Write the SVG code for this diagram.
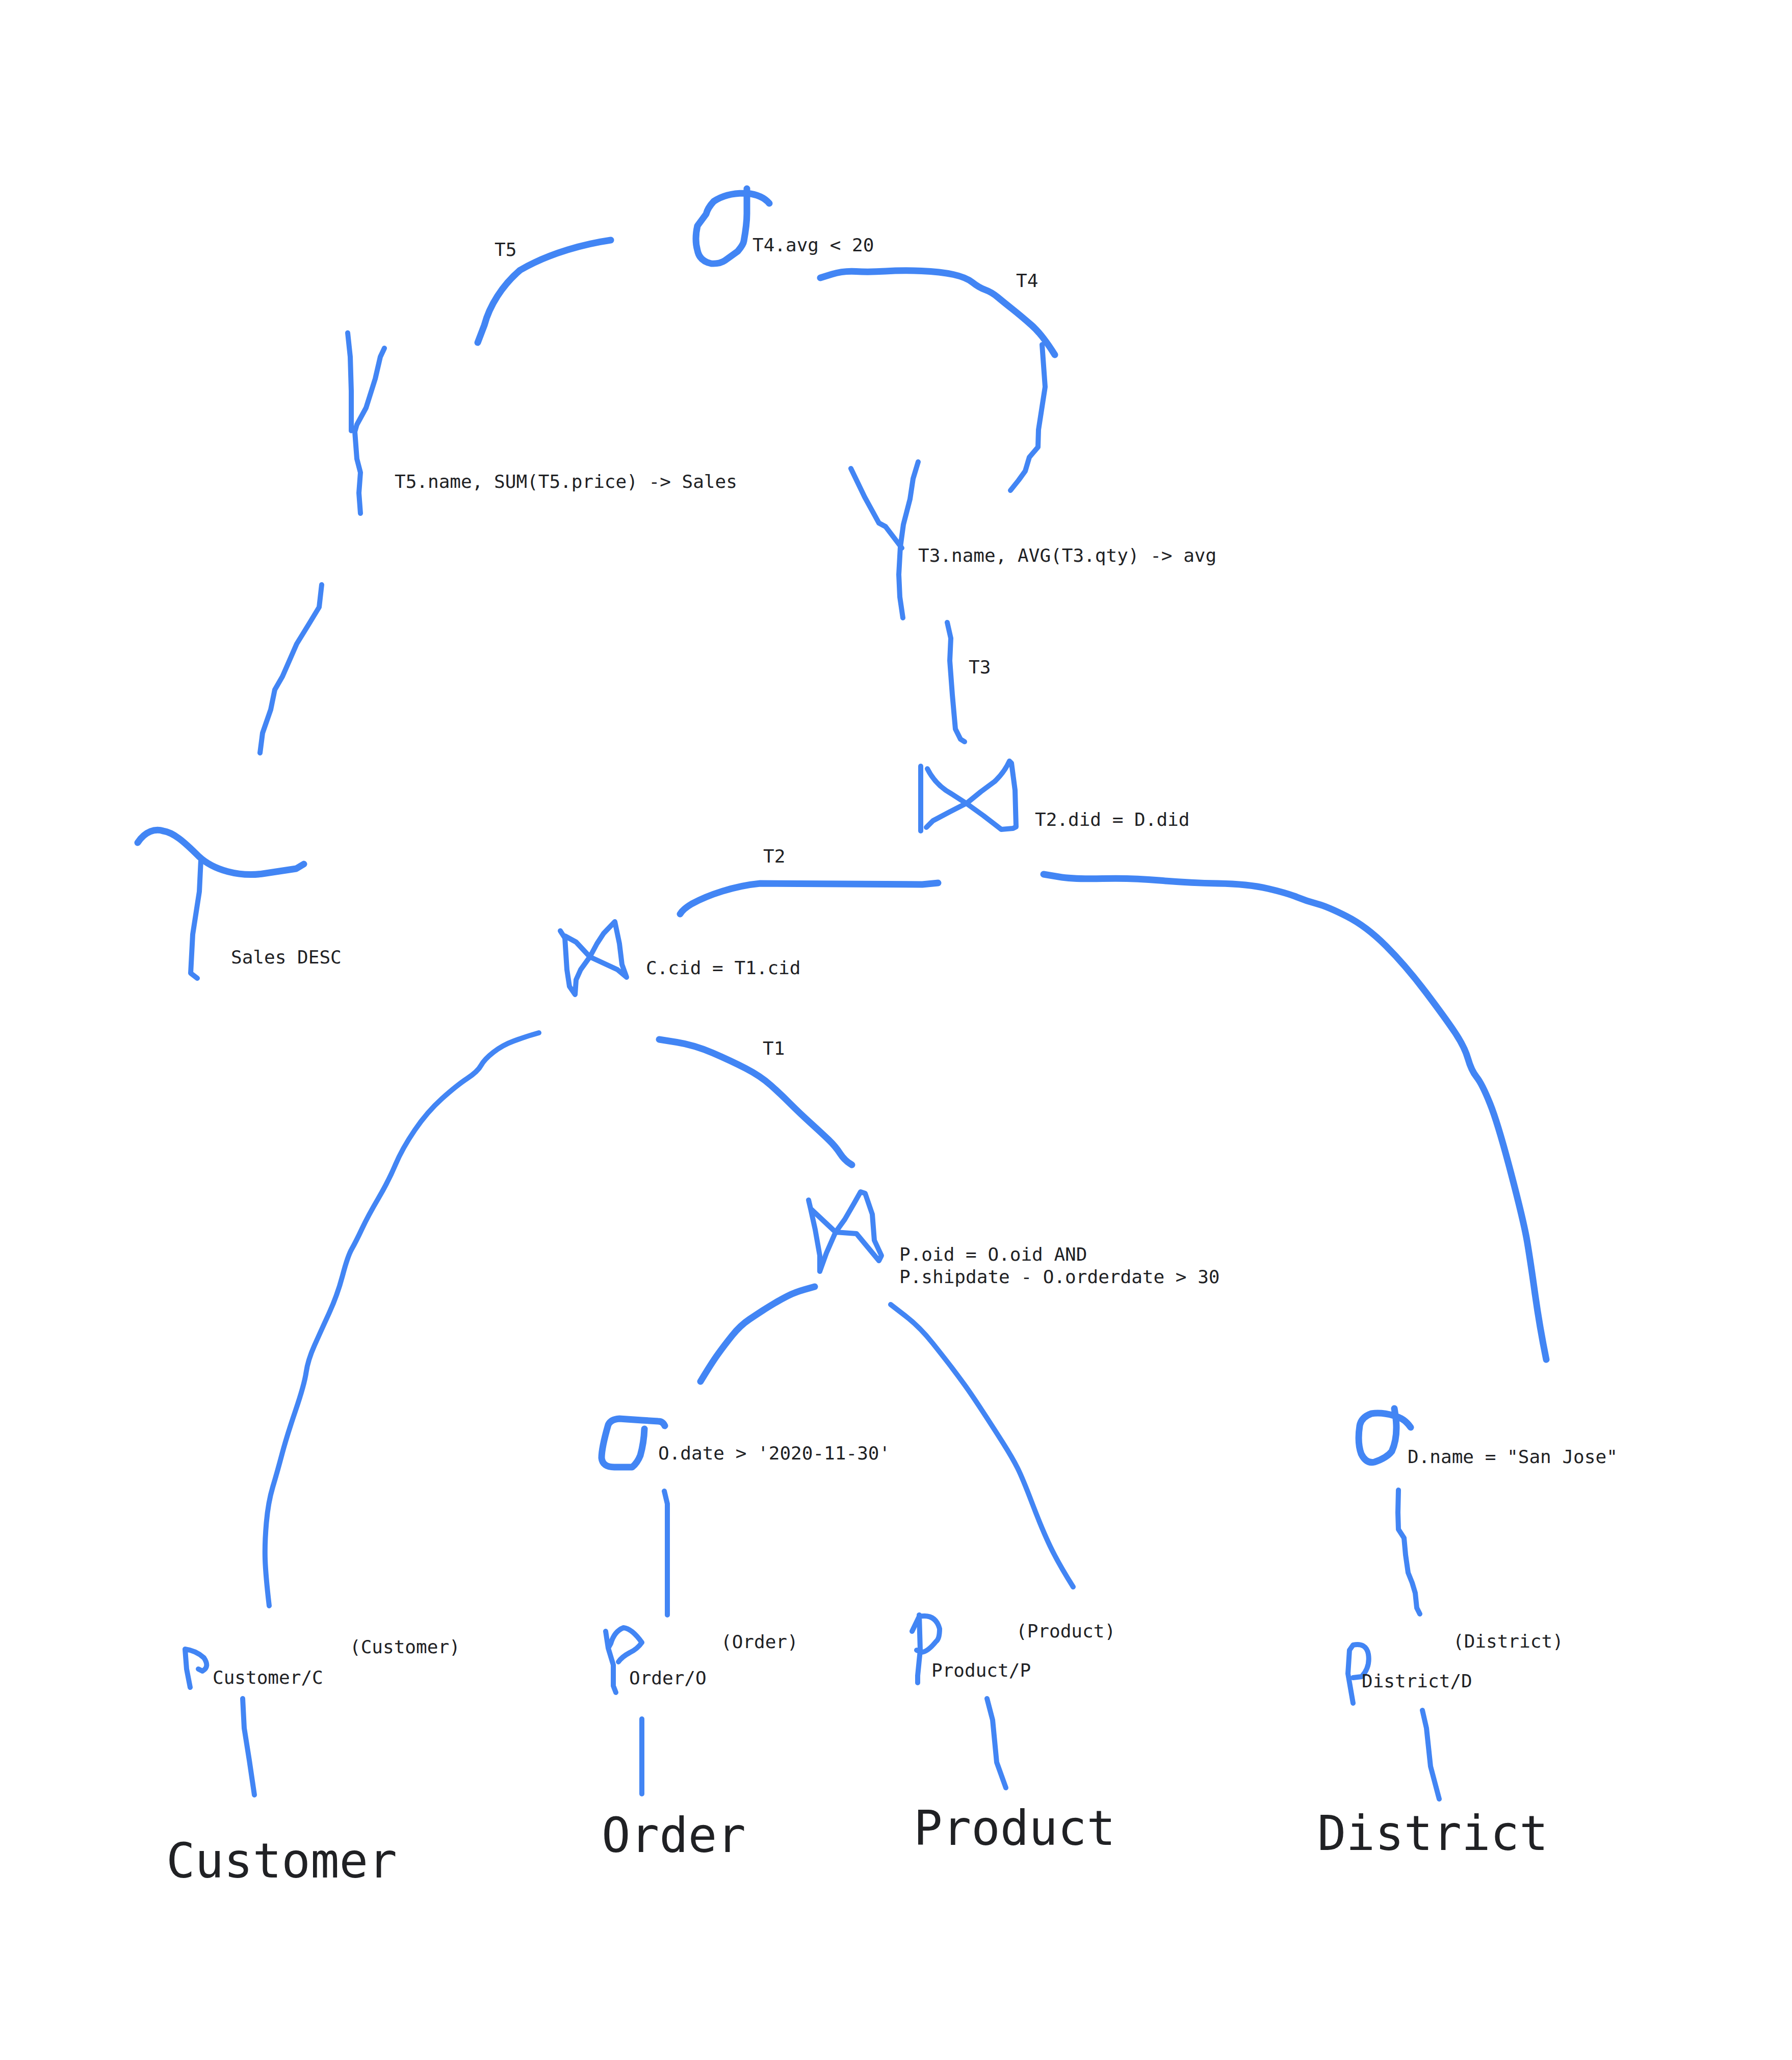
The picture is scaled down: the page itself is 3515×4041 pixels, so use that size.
<svg xmlns="http://www.w3.org/2000/svg" width="3515" height="4041" viewBox="0 0 3515 4041">
<style>
.s{fill:none;stroke:#4285F4;stroke-width:10;stroke-linecap:round;stroke-linejoin:round}
.w{stroke-width:13}
.t{font-family:"DejaVu Sans Mono","Liberation Mono",monospace;font-size:36px;fill:#202124}
.big{font-size:94px}
</style>
<rect width="3515" height="4041" fill="#ffffff"/>
<g id="connectors">
  <path class="s w" d="M1198,471 C1150,478 1080,495 1020,530 C985,560 960,600 950,638 L937,672"/>
  <path class="s w" d="M1609,545 L1631.5,538 Q1654,531 1679,532.5 Q1704,534 1737,532 Q1770,530 1807.5,531.5 Q1845,533 1870,538.5 Q1895,544 1907.5,554 Q1920,564 1932.5,568.5 Q1945,573 1957,583 Q1969,593 1986,606.5 Q2003,620 2023.5,638 Q2044,656 2069,696"/>
  <path class="s" d="M2044,676 L2050,759 L2037,843 L2036,877 L2019,897 L2011,924 L1998,942 L1982,962"/>
  <path class="s" d="M631,1147 L626,1191 L606,1224 L582,1263 L554,1327 L539,1353 L531,1392 L515,1438 L510,1477"/>
  <path class="s" d="M1858,1221 L1865,1252 L1863,1296 L1868,1363 L1874,1430 L1884,1450 L1892,1455"/>
  <path class="s w" d="M1840,1732 L1809,1735 L1491,1733 C1440,1738 1390,1755 1357,1773 Q1340,1783 1334,1793"/>
  <path class="s w" d="M2047,1715 L2077,1720 Q2107,1725 2163,1723.5 Q2219,1722 2274.5,1727 Q2330,1732 2389,1733 Q2448,1734 2486.5,1743 Q2525,1752 2544.5,1760 Q2564,1768 2583.5,1773 Q2603,1778 2641.5,1797.5 Q2680,1817 2718.5,1855.5 Q2757,1894 2796,1945.5 Q2835,1997 2854,2025.5 Q2873,2054 2879.5,2077 Q2886,2100 2896.5,2113 Q2907,2126 2922.5,2164.5 Q2938,2203 2963.5,2300 Q2989,2397 2995.5,2435.5 Q3002,2474 3011,2538.5 Q3020,2603 3033,2667"/>
  <path class="s" d="M1057,2026 L1043.5,2030 Q1030,2034 1008,2042 Q986,2050 968,2064 Q950,2078 943.5,2090 Q937,2102 916.5,2115.5 Q896,2129 867,2155 Q838,2181 813.5,2217 Q789,2253 775.5,2285 Q762,2317 742,2351 Q722,2385 710,2410.5 Q698,2436 690,2450 Q682,2464 672,2502 Q662,2540 645.5,2576 Q629,2612 616.5,2640 Q604,2668 600.5,2692 Q597,2716 579.5,2767.5 Q562,2819 553,2853 Q544,2887 535,2917 Q526,2947 522.5,2987 Q519,3027 520,3058.5 Q521,3090 528,3150"/>
  <path class="s w" d="M1293,2039 L1327.5,2044.5 Q1362,2050 1398,2065.5 Q1434,2081 1463,2096 Q1492,2111 1512,2129 Q1532,2147 1550,2165 Q1568,2183 1590,2203 Q1612,2223 1625.5,2236 Q1639,2249 1648,2263 Q1657,2277 1671,2285"/>
  <path class="s w" d="M1598,2524 L1578.5,2529.5 Q1559,2535 1544.5,2542.5 Q1530,2550 1517.5,2557.5 Q1505,2565 1496.5,2570.5 Q1488,2576 1470,2588 Q1452,2600 1436,2620 Q1420,2640 1407.5,2657.5 Q1395,2675 1374,2710"/>
  <path class="s" d="M1747,2559 L1775.5,2581 Q1804,2603 1829.5,2635 Q1855,2667 1867.5,2683.5 Q1880,2700 1892,2716.5 Q1904,2733 1926,2766.5 Q1948,2800 1967,2830 Q1986,2860 1996,2880 Q2006,2900 2025,2950 Q2044,3000 2060,3033.5 Q2076,3067 2105,3113"/>
  <path class="s" d="M1303,2925 L1309,2950 L1309,3168"/>
  <path class="s" d="M2743,2923 L2742,2967 L2743,3000 L2754,3017 L2757,3050 L2762,3085 L2770,3105 L2776,3125 L2779,3154 L2785,3166"/>
  <path class="s" d="M476,3332 L479,3390 L489,3453 L499,3521"/>
  <path class="s" d="M1259,3372 L1259,3519"/>
  <path class="s" d="M1936,3332 L1947,3374 L1955,3457 L1973,3507"/>
  <path class="s" d="M2790,3355 L2798,3390 L2806,3465 L2823,3529"/>
  <text class="t" x="970" y="502">T5</text>
  <text class="t" x="1993" y="563">T4</text>
  <text class="t" x="1900" y="1321">T3</text>
  <text class="t" x="1497" y="1692">T2</text>
  <text class="t" x="1496" y="2069">T1</text>
</g>
<g id="select-top">
  <path class="s w" d="M1509,399 Q1495,382 1464,379 Q1425,378 1400,395 Q1388,408 1385,420 L1368,443 Q1362,470 1368,491 Q1372,512 1395,517 Q1412,518 1422,511 L1447,493 Q1458,480 1459,473 Q1465,440 1465,419 L1465,370"/>
  <text class="t" x="1476" y="493">T4.avg &lt; 20</text>
</g>
<g id="group-t5">
  <path class="s" d="M682,653 L687,700 L689,767 L689,845"/>
  <path class="s" d="M754,683 L746,700 L736,743 L718,800 L700,833 L696,847 L700,900 L707,927 L704,967 L707,1007"/>
  <text class="t" x="774" y="957">T5.name, SUM(T5.price) -&gt; Sales</text>
</g>
<g id="group-t3">
  <path class="s" d="M1669,919 L1696,975 L1724,1026 L1737,1033 L1769,1075"/>
  <path class="s" d="M1801,906 L1791,939 L1785,979 L1772,1029 L1766,1073 L1763,1127 L1765,1171 L1771,1212"/>
  <text class="t" x="1801" y="1102">T3.name, AVG(T3.qty) -&gt; avg</text>
</g>
<g id="sort">
  <path class="s w" d="M270,1653 C285,1630 305,1625 320,1630 C340,1633 360,1650 390,1680 C420,1708 470,1720 515,1714 L581,1704 L596,1695"/>
  <path class="s" d="M394,1687 L391,1749 L378,1833 L374,1909 L387,1919"/>
  <text class="t" x="453" y="1890">Sales DESC</text>
</g>
<g id="join-top">
  <path class="s" d="M1806,1503 L1806,1630"/>
  <path class="s" d="M1819,1508 Q1835,1540 1866,1557 L1897,1577 L1929,1600 L1955,1620 L1964,1627 L1987,1625 L1993,1622 L1991,1550 L1984,1497 L1980,1493 Q1970,1515 1951,1533 L1924,1553 L1897,1575 L1862,1593 L1830,1610 L1817,1623"/>
  <text class="t" x="2030" y="1620">T2.did = D.did</text>
</g>
<g id="join-c">
  <path class="s" d="M1099,1826 L1108,1840 L1112,1902 L1117,1935 L1128,1951 L1130,1922 L1139,1902 L1157,1877 L1171,1851 L1184,1831 L1206,1808 L1215,1851 L1220,1892 L1229,1917 L1211,1902 L1157,1877 L1130,1848 L1108,1836"/>
  <text class="t" x="1267" y="1911">C.cid = T1.cid</text>
</g>
<g id="join-po">
  <path class="s" d="M1586,2354 L1590,2371 L1599,2412 L1608,2463 L1608,2494 L1621,2458 L1639,2417 L1657,2392 L1675,2361 L1688,2338 L1697,2341 L1711,2382 L1715,2433 L1729,2463 L1724,2473 L1680,2420 L1639,2417 L1590,2371"/>
  <text class="t" x="1764" y="2473">P.oid = O.oid AND</text>
  <text class="t" x="1764" y="2517">P.shipdate - O.orderdate &gt; 30</text>
</g>
<g id="select-o">
  <path class="s w" d="M1304,2797 Q1300,2788 1291,2788 L1259,2786 L1215,2783 Q1198,2784 1193,2795 Q1180,2840 1180,2860 Q1182,2878 1205,2878 L1240,2878 Q1250,2870 1256,2855 Q1263,2830 1264,2803"/>
  <text class="t" x="1291" y="2863">O.date &gt; '2020-11-30'</text>
</g>
<g id="select-d">
  <path class="s w" d="M2767,2800 Q2755,2782 2734,2777 Q2710,2770 2690,2773 Q2670,2780 2667,2797 Q2662,2830 2670,2852 Q2680,2872 2696,2868 Q2720,2860 2730,2847 Q2742,2820 2738,2783 L2735,2763"/>
  <text class="t" x="2761" y="2870">D.name = "San Jose"</text>
</g>
<g id="scan-customer">
  <path class="s" d="M373,3310 L366,3274 L363,3235 Q385,3238 400,3252 Q412,3270 397,3278 L389,3274"/>
  <text class="t" x="686" y="3243">(Customer)</text>
  <text class="t" x="417" y="3303">Customer/C</text>
</g>
<g id="scan-order">
  <path class="s" d="M1208,3320 L1203,3307 L1203,3266 L1193,3233 L1188,3200 L1193,3233 L1198,3224 Q1205,3200 1223,3193 Q1240,3195 1259,3222 Q1250,3235 1235,3242 Q1220,3250 1213,3260"/>
  <text class="t" x="1414" y="3233">(Order)</text>
  <text class="t" x="1234" y="3304">Order/O</text>
</g>
<g id="scan-product">
  <path class="s" d="M1800,3301 L1800,3287 L1805,3237 L1803,3168 M1789,3200 L1803,3171 Q1835,3165 1843,3195 Q1843,3215 1836,3220 Q1820,3240 1808,3241 L1798,3237"/>
  <text class="t" x="1993" y="3212">(Product)</text>
  <text class="t" x="1827" y="3289">Product/P</text>
</g>
<g id="scan-district">
  <path class="s" d="M2654,3341 L2649,3312 L2644,3283 L2647,3237 L2654,3227 Q2680,3222 2684,3245 Q2688,3270 2671,3289 L2654,3291"/>
  <text class="t" x="2850" y="3232">(District)</text>
  <text class="t" x="2671" y="3310">District/D</text>
</g>
<g id="table-customer"><text class="t big" x="326" y="3683">Customer</text></g>
<g id="table-order"><text class="t big" x="1180" y="3633">Order</text></g>
<g id="table-product"><text class="t big" x="1792" y="3619">Product</text></g>
<g id="table-district"><text class="t big" x="2584" y="3629">District</text></g>
</svg>
